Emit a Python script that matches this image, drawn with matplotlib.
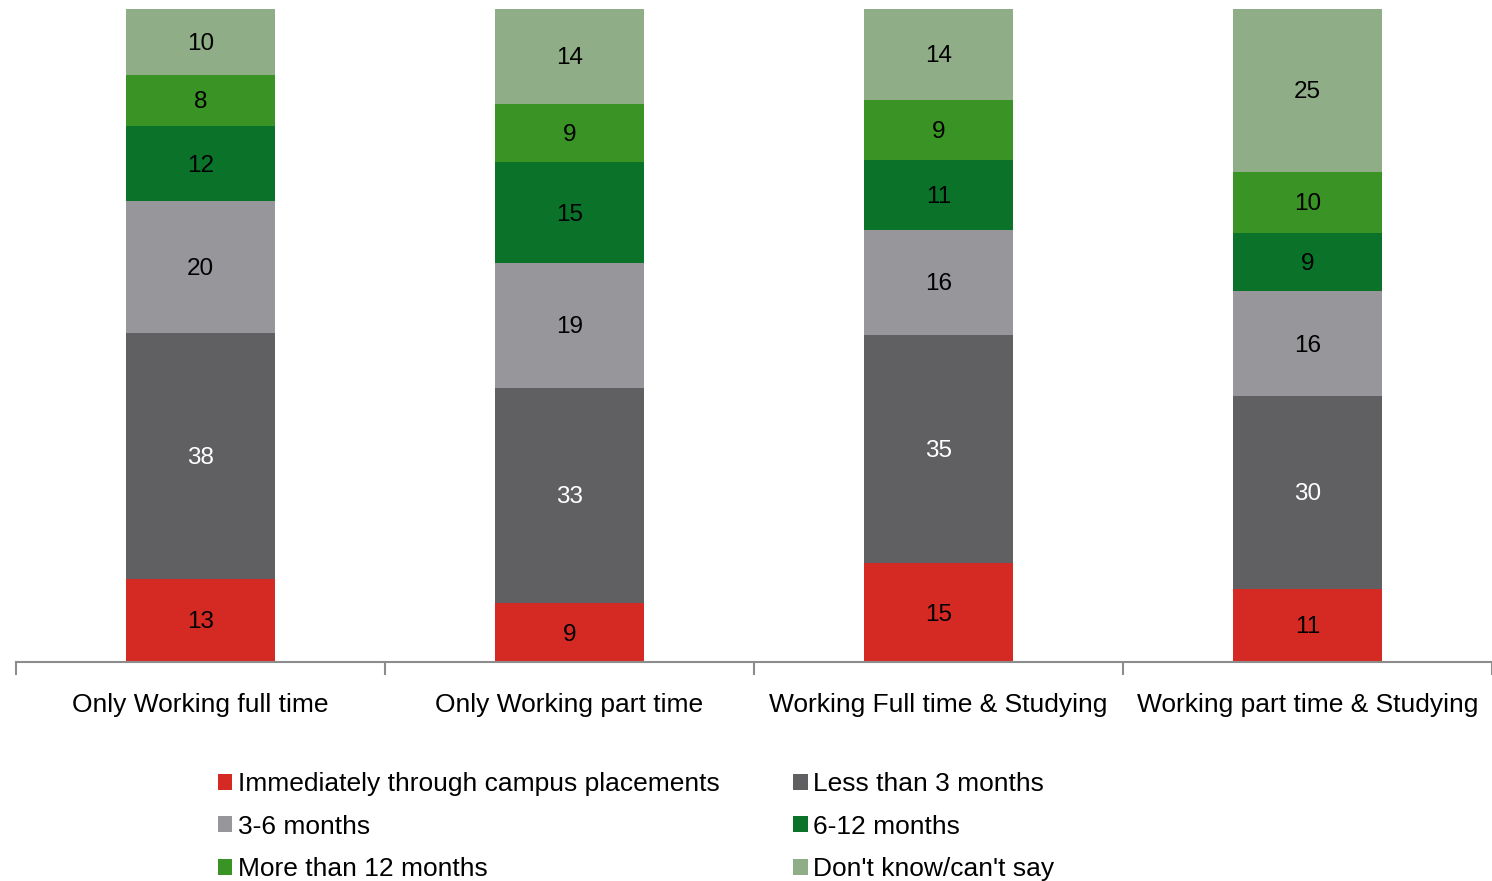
import matplotlib.pyplot as plt
import numpy as np

plt.rcParams["font.family"] = ["Liberation Sans", "DejaVu Sans"]

categories = [
    "Only Working full time",
    "Only Working part time",
    "Working Full time & Studying",
    "Working part time & Studying",
]
series_names = [
    "Immediately through campus placements",
    "Less than 3 months",
    "3-6 months",
    "6-12 months",
    "More than 12 months",
    "Don't know/can't say",
]
# bar heights (percent), labels are the printed numbers
immediately = [12.7, 9.0, 15.1, 11.2]
less_3 = [37.6, 33.0, 34.9, 29.5]
m3_6 = [20.2, 19.1, 16.2, 16.1]
m6_12 = [11.6, 15.4, 10.7, 8.9]
more_12 = [7.8, 9.0, 9.2, 9.3]
dont_know = [10.1, 14.4, 13.9, 25.1]

lab_immediately = [13, 9, 15, 11]
lab_less_3 = [38, 33, 35, 30]
lab_m3_6 = [20, 19, 16, 16]
lab_m6_12 = [12, 15, 11, 9]
lab_more_12 = [8, 9, 9, 10]
lab_dont_know = [10, 14, 14, 25]

colors = ["#d52a24", "#606062", "#97979b", "#0a7329", "#3a9325", "#8fae87"]
text_colors = ["black", "white", "black", "black", "black", "black"]

values = [immediately, less_3, m3_6, m6_12, more_12, dont_know]
labels = [lab_immediately, lab_less_3, lab_m3_6, lab_m6_12, lab_more_12, lab_dont_know]

fig = plt.figure(figsize=(14.92, 8.81), dpi=100)
ax = fig.add_axes([0.0107, 0.2486, 0.9893, 0.7414])

x = np.arange(len(categories))
bottom = np.zeros(len(categories))
handles = []
for vals, labs, col, tcol, name in zip(values, labels, colors, text_colors, series_names):
    vals = np.array(vals)
    b = ax.bar(x, vals, width=0.404, bottom=bottom, color=col, label=name)
    handles.append(b)
    for xi, v, bt, lab in zip(x, vals, bottom, labs):
        ax.text(xi, bt + v / 2 - 0.3, str(lab), ha="center", va="center",
                fontsize=17.5, color=tcol)
    bottom += vals

ax.set_xlim(-0.5, len(categories) - 0.5)
ax.set_ylim(0, 100)
ax.set_yticks([])
for s in ["top", "right", "left"]:
    ax.spines[s].set_visible(False)
ax.spines["bottom"].set_color("#8c8c8c")
ax.spines["bottom"].set_linewidth(1.5)

# category boundary ticks
ax.set_xticks(np.arange(-0.5, len(categories)))
ax.set_xticklabels([])
ax.tick_params(axis="x", direction="out", length=9, width=1.5, color="#8c8c8c")
for xi, cat in zip(x, categories):
    ax.text(xi, -6.6, cat, ha="center", va="center", fontsize=19, color="black")

order = [0, 2, 4, 1, 3, 5]
leg = fig.legend([handles[i] for i in order], [series_names[i] for i in order],
                 ncol=2, loc="upper left", bbox_to_anchor=(0.139, 0.1355),
                 frameon=False, fontsize=19, handlelength=0.55, handleheight=0.55,
                 handletextpad=0.2, columnspacing=2.8, labelspacing=0.70,
                 borderaxespad=0)

fig.savefig("out.png", dpi=100)
